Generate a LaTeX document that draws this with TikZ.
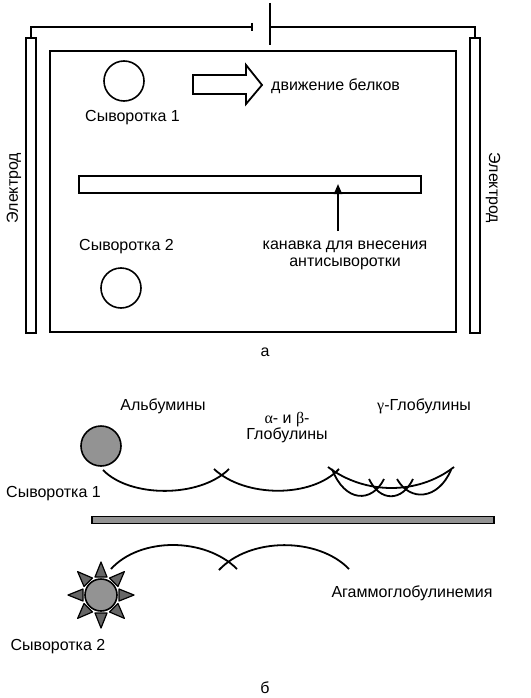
\documentclass[tikz,border=0pt]{standalone}
\usepackage{fontspec}
\setmainfont{Liberation Sans}
\newfontfamily\grk{Liberation Serif}
\usetikzlibrary{arrows.meta}
\begin{document}
\begin{tikzpicture}[x=1pt,y=-1pt,
  line/.style={line width=1.8pt},
  thin line/.style={line width=1.4pt},
  lbl/.style={font=\fontsize{16}{18}\selectfont, inner sep=0pt, align=center},
  well/.style={draw, line width=1.6pt, circle, minimum size=40pt, inner sep=0pt},
  band/.style={line width=1.8pt},
  protein/.style={draw, line width=1.6pt, circle, fill=gray!85!white, inner sep=0pt},
  ray/.style={draw, line width=1.2pt, fill=gray!80!black, line join=round}
]
\useasboundingbox (0,0) rectangle (530,698);
% ---------- part a ----------
% electrodes
\node[draw, thin line, minimum width=10pt, minimum height=295pt, inner sep=0pt] (eL) at (31,185.5) {};
\node[draw, thin line, minimum width=10pt, minimum height=295pt, inner sep=0pt] (eR) at (475,185.5) {};
% battery
\coordinate (pS) at (252,27);
\coordinate (pL) at (270,27);
\draw[line] (pS)+(0,-4) -- +(0,4);
\draw[line] (pL)+(0,-24) -- +(0,18);
\draw[line] (eL.north) -- (31,27) -- (pS);
\draw[line] (eR.north) -- (475,27) -- (pL);
% gel
\node[draw, line width=2pt, minimum width=406pt, minimum height=281pt, inner sep=0pt] (gel) at (253,191.5) {};
% wells
\node[well] (w1) at (124,81) {};
\node[well] (w2) at (121,288) {};
\node[lbl, anchor=west] (s1a) at (85,118) {Сыворотка 1};
\node[lbl, anchor=west] (s2a) at (79,247) {Сыворотка 2};
% block arrow
\draw[line width=1.8pt, line join=miter] (193,75) -- (246,75) -- (246,65) -- (262,85) -- (246,104) -- (246,94) -- (193,94) -- cycle;
\node[lbl, anchor=west] (mov) at (271,86) {движение белков};
% slot
\node[draw, line width=1.8pt, minimum width=342pt, minimum height=17pt, inner sep=0pt] (slot) at (250,184.5) {};
\node[lbl] (slotlbl) at (345,255) {канавка для внесения\\[-1pt]антисыворотки};
\coordinate (arrtail) at (338,231);
\draw[line, -{Triangle[length=10pt,width=8pt]}] (arrtail) -- (338,184);
% electrode labels
\node[lbl, rotate=90] (elL) at (14,188) {Электрод};
\node[lbl, rotate=-90] (elR) at (493,188) {Электрод};
\node[lbl] (a) at (265,352) {а};
% ---------- part b ----------
\node[lbl] (alb) at (163,406) {Альбумины};
\node[lbl] (ab) at (287,428) {{\grk α}- и {\grk β}-\\[-2pt]Глобулины};
\node[lbl] (gg) at (424,406) {{\grk γ}-Глобулины};
\node[protein, minimum size=40pt] (p1) at (101,446) {};
\node[lbl, anchor=west] (s1b) at (6,494) {Сыворотка 1};
% bands serum 1
\draw[band] (103,470) .. controls (130,498) and (200,498) .. (229,469);
\draw[band] (214,469) .. controls (245,498) and (312,498) .. (339,469);
\draw[band] (328,467) .. controls (365,495) and (418,495) .. (454,467);
\draw[band] (332,469) .. controls (345,503) and (372,503) .. (384,479);
\draw[band] (369,479) .. controls (380,502) and (402,502) .. (413,479);
\draw[band] (397,479) .. controls (410,502) and (438,500) .. (451,470);
% bar
\node[draw, line width=1.4pt, fill=gray!85!white, minimum width=402pt, minimum height=7pt, inner sep=0pt] (bar) at (293,520) {};
% serum 2
\node[protein, minimum size=32pt] (p2) at (101,595) {};
\foreach \a in {0,45,...,315}
  \draw[ray, rotate around={\a:(101,595)}] (119,589) -- (134,595) -- (119,601) -- cycle;
\draw[band] (111,569) .. controls (140,537) and (205,537) .. (237,569);
\draw[band] (219,570) .. controls (250,537) and (318,537) .. (349,569);
\node[lbl] (agam) at (412,593) {Агаммоглобулинемия};
\node[lbl] (s2b) at (58,647) {Сыворотка 2};
\node[lbl] (b) at (265,688) {б};
\end{tikzpicture}
\end{document}
